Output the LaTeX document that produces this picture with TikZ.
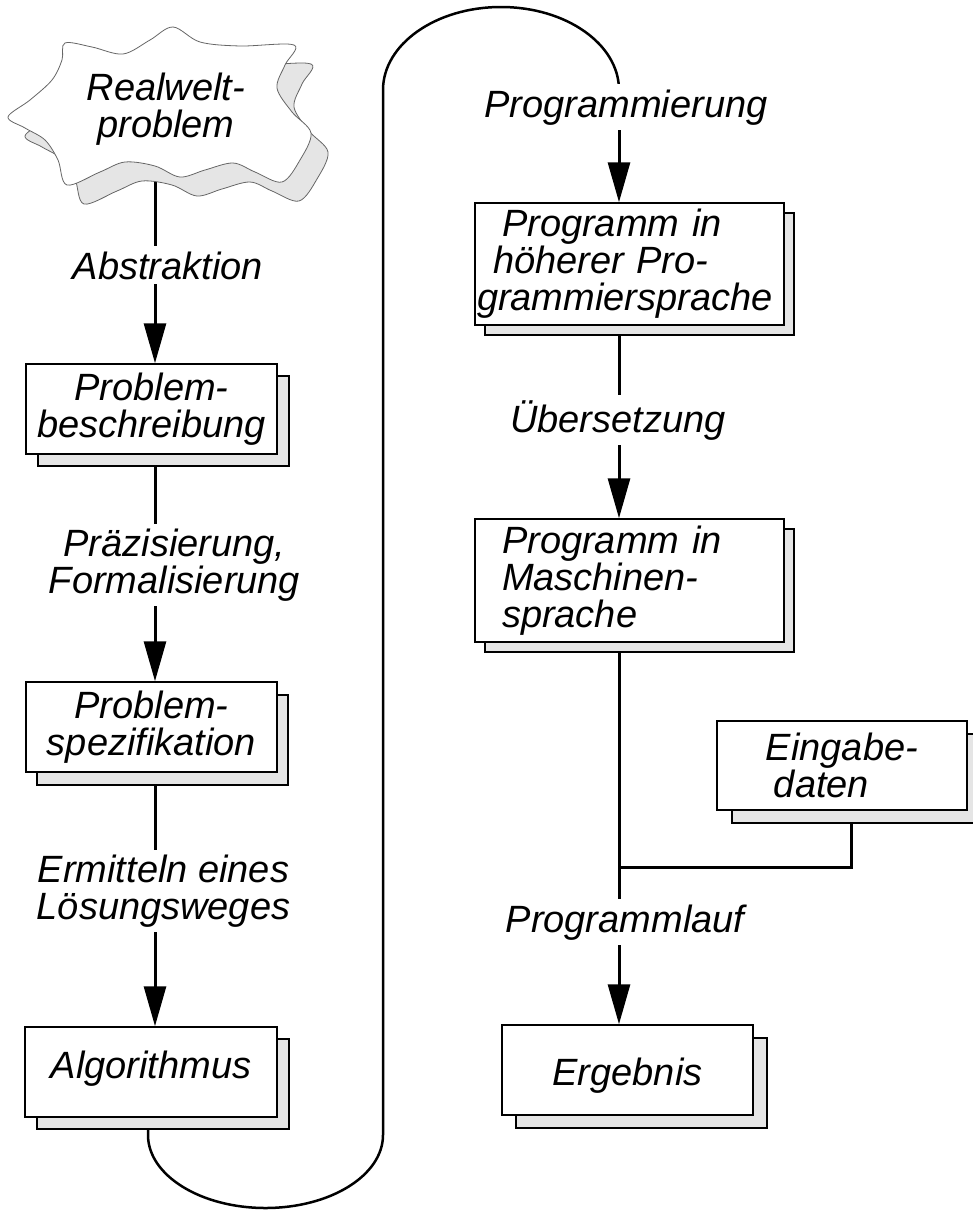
\documentclass[tikz,border=0pt]{standalone}
\usepackage{fontspec}
\setmainfont{Liberation Sans}
\usetikzlibrary{arrows.meta,shadows,backgrounds}
\begin{document}
\begin{tikzpicture}[x=1pt,y=-1pt,
  txt/.style={font=\itshape\fontsize{38}{37}\selectfont},
  sbox/.style 2 args={txt, draw=black, fill=white, line width=1.5pt, inner sep=0pt, align=center,
     copy shadow={shadow xshift=#1pt, shadow yshift=-#2pt, fill=black!10, draw=black, line width=1.5pt}},
  lab/.style={txt, fill=white, inner sep=5pt},
  conn/.style={line width=3pt, -{Triangle[length=40pt,width=22pt]}},
  loopline/.style={line width=2.5pt},
  cloudline/.style={draw=black!60, line width=0.8pt}
]
\useasboundingbox (0,0) rectangle (973,1210);

% helper coordinates for line positions
\coordinate (lx) at (155,0);
\coordinate (lb) at (148,0);
\coordinate (rx) at (619,0);
\coordinate (cloudbot) at (155,175);
\coordinate (join) at (619,867);
\coordinate (lbs) at (148,1135);
\coordinate (lbe) at (383,1135);
\coordinate (lt) at (383,90);
\coordinate (rt) at (619,90);

% cloud with shadow
\foreach \dx/\dy/\col in {17/19/black!10, 0/0/white}{
  \draw[cloudline, fill=\col, shift={(\dx,\dy)}] plot[smooth cycle, tension=0.55] coordinates {
    (65,43) (92,47) (123,54) (150,40) (173,27) (200,42) (240,46) (294,45)
    (285,65) (277,88) (292,112) (311,133) (300,160) (282,182)
    (255,172) (233,163) (205,170) (180,177) (155,166) (125,162) (100,172) (67,185)
    (58,160) (45,140) (25,128) (8,117) (30,100) (52,80) (62,60)};
}
\node[txt, align=center] (cloud) at (166,109) {Realwelt-\\problem};

% boxes
\node[sbox={12}{12}, minimum width=251pt, minimum height=90pt] (B1) at (151.5,409) {Problem-\\beschreibung};
\node[sbox={11}{13}, minimum width=251pt, minimum height=90pt] (B2) at (151.5,727) {Problem-\\spezifikation};
\node[sbox={12}{12}, minimum width=252pt, minimum height=90pt, text height=20pt, text depth=8pt] (B3) at (151,1072) {Algorithmus};
\node[sbox={10}{10}, minimum width=309pt, minimum height=122pt, align=left, text width=305pt, inner xsep=2pt] (R1) at (629.5,264)
   {\hspace*{25pt}Programm in\\\hspace*{16pt}höherer Pro-\\grammiersprache};
\node[sbox={10}{10}, minimum width=309pt, minimum height=123pt, align=left, text width=255pt, inner xsep=27pt] (R2) at (629.5,580.5)
   {Programm in\\Maschinen-\\sprache};
\node[sbox={15}{13}, minimum width=250pt, minimum height=89pt, align=left] (E) at (842,765.5) {Eingabe-\\\hspace*{8pt}daten};
\node[sbox={14}{13}, minimum width=251pt, minimum height=90pt, text height=38pt, text depth=8pt] (Erg) at (627.5,1070) {Ergebnis};

% labels
\node[lab, anchor=base] (L1) at (168,279) {Abstraktion};
\node[lab, align=center] (L2) at (174.5,565) {Präzisierung,\\Formalisierung};
\node[lab, align=center] (L3) at (163.5,891) {Ermitteln eines\\Lösungsweges};
\node[lab, anchor=base] (L4) at (626,117) {Programmierung};
\node[lab, anchor=base] (L5) at (618,432) {Übersetzung};
\node[lab, anchor=base] (L6) at (625,932) {Programmlauf};

% connectors
\begin{scope}[on background layer]
\draw[conn] (cloudbot) -- (B1.north -| lx);
\draw[conn] (B1.south -| lx) -- (B2.north -| lx);
\draw[conn] (B2.south -| lx) -- (B3.north -| lx);
\draw[loopline] (B3.south -| lb) -- (lbs)
   .. controls (148,1175.3) and (200.6,1208) .. (265.5,1208)
   .. controls (330.4,1208) and (383,1175.3) .. (lbe)
   -- (lt)
   .. controls (383,44.2) and (435.8,7) .. (501,7)
   .. controls (566.2,7) and (619,44.2) .. (rt);
\draw[conn] (rt) -- (R1.north -| rx);
\draw[conn] (R1.south -| rx) -- (R2.north -| rx);
\draw[conn] (R2.south -| rx) -- (Erg.north -| rx);
\draw[line width=3pt] ([xshift=9pt]E.south) |- (join);
\end{scope}
\end{tikzpicture}
\end{document}
